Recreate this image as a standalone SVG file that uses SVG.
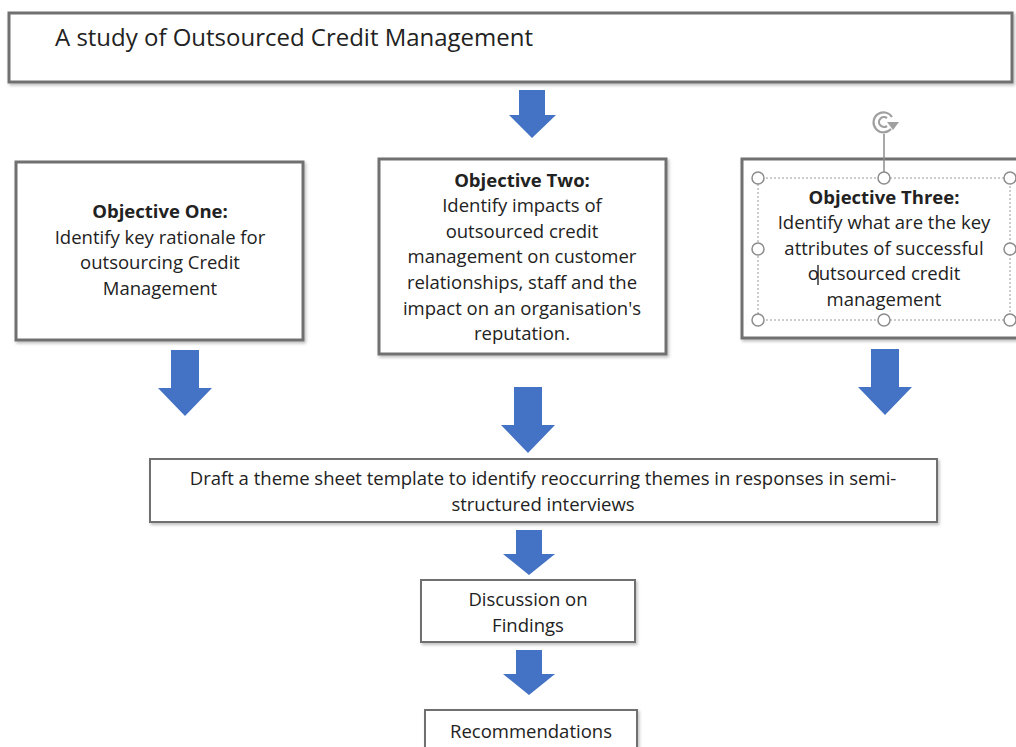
<svg xmlns="http://www.w3.org/2000/svg" width="1016" height="747" viewBox="0 0 1016 747">
  <defs>
    <filter id="shadow" x="-5%" y="-5%" width="110%" height="120%">
      <feDropShadow dx="1.5" dy="2" stdDeviation="1.5" flood-color="#000" flood-opacity="0.25"/>
    </filter>
    <!-- block arrow pointing down, origin at top-left of its bounding box (54 x 66) -->
    <path id="arrowDown" d="M13,0 H41 V38 H54 L27,66 L0,38 H13 Z"/>
    <path id="arrowSmall" d="M13,0 H39 V24 H52 L26,45 L0,24 H13 Z"/>
  </defs>
  <style>
    .box { fill: #ffffff; stroke: #707070; stroke-width: 3; filter: url(#shadow); }
    .thin { fill: #ffffff; stroke: #707070; stroke-width: 2; filter: url(#shadow); }
    .arrow { fill: #4472c4; }
    text { font-family: "Open Sans", "Noto Sans", "DejaVu Sans", sans-serif; fill: #222222; font-size: 18.5px; }
    .c { text-anchor: middle; }
    .b { font-weight: bold; }
    .title { font-size: 24px; }
    .handle { fill: #ffffff; stroke: #8c8c8c; stroke-width: 1.5; }
    .sel { fill: none; stroke: #9a9a9a; stroke-width: 1; stroke-dasharray: 2 2; }
  </style>

  <rect width="1016" height="747" fill="#ffffff"/>

  <g id="title">
    <rect class="box" x="9" y="13" width="1003" height="69"/>
    <text class="title" x="55" y="46" textLength="478" lengthAdjust="spacingAndGlyphs">A study of Outsourced Credit Management</text>
  </g>

  <g id="objective-one">
    <rect class="box" x="16" y="162" width="287" height="178"/>
    <text class="c b" x="160" y="218">Objective One:</text>
    <text class="c" x="160" y="244">Identify key rationale for</text>
    <text class="c" x="160" y="269">outsourcing Credit</text>
    <text class="c" x="160" y="295">Management</text>
  </g>

  <g id="objective-two">
    <rect class="box" x="379" y="159" width="287" height="195"/>
    <text class="c b" x="522" y="187">Objective Two:</text>
    <text class="c" x="522" y="212">Identify impacts of</text>
    <text class="c" x="522" y="238">outsourced credit</text>
    <text class="c" x="522" y="263">management on customer</text>
    <text class="c" x="522" y="289">relationships, staff and the</text>
    <text class="c" x="522" y="315">impact on an organisation's</text>
    <text class="c" x="522" y="340">reputation.</text>
  </g>

  <g id="objective-three">
    <rect class="box" x="742" y="159" width="290" height="179"/>
    <text class="c b" x="884" y="204">Objective Three:</text>
    <text class="c" x="884" y="229">Identify what are the key</text>
    <text class="c" x="884" y="255">attributes of successful</text>
    <text class="c" x="884" y="280">outsourced credit</text>
    <text class="c" x="884" y="306">management</text>
    <!-- text cursor -->
    <line x1="818" y1="265" x2="818" y2="285" stroke="#000" stroke-width="1.2"/>
    <!-- selection frame with resize and rotate handles -->
    <rect class="sel" x="758" y="178" width="252" height="142"/>
    <line x1="884" y1="134" x2="884" y2="178" stroke="#8c8c8c" stroke-width="1.5"/>
    <g fill="none" stroke="#a0a0a0" stroke-width="2.2">
      <path d="M891,129 A10,10 0 1 1 892,117"/>
      <path d="M887,126 A5,5 0 1 1 887,118"/>
    </g>
    <path d="M887,122 L899,122 L893,130 Z" fill="#a0a0a0"/>
    <circle class="handle" cx="758" cy="178" r="6"/>
    <circle class="handle" cx="884" cy="178" r="6"/>
    <circle class="handle" cx="1010" cy="178" r="6"/>
    <circle class="handle" cx="758" cy="249" r="6"/>
    <circle class="handle" cx="1010" cy="249" r="6"/>
    <circle class="handle" cx="758" cy="320" r="6"/>
    <circle class="handle" cx="884" cy="320" r="6"/>
    <circle class="handle" cx="1010" cy="320" r="6"/>
  </g>

  <g id="theme-sheet">
    <rect class="thin" x="150" y="459" width="787" height="63"/>
    <text class="c" x="543" y="485">Draft a theme sheet template to identify reoccurring themes in responses in semi-</text>
    <text class="c" x="543" y="511">structured interviews</text>
  </g>

  <g id="discussion">
    <rect class="thin" x="421" y="580" width="214" height="62"/>
    <text class="c" x="528" y="606">Discussion on</text>
    <text class="c" x="528" y="632">Findings</text>
  </g>

  <g id="recommendations">
    <rect class="thin" x="425" y="710" width="212" height="50"/>
    <text class="c" x="531" y="738">Recommendations</text>
  </g>

  <g id="connectors" class="arrow">
    <path d="M519,90 H545 V115 H556 L532,138 L509,115 H519 Z"/>
    <use href="#arrowDown" x="158" y="350"/>
    <use href="#arrowDown" x="501" y="387"/>
    <use href="#arrowDown" x="858" y="349"/>
    <use href="#arrowSmall" x="503" y="530"/>
    <use href="#arrowSmall" x="503" y="650"/>
  </g>
</svg>
